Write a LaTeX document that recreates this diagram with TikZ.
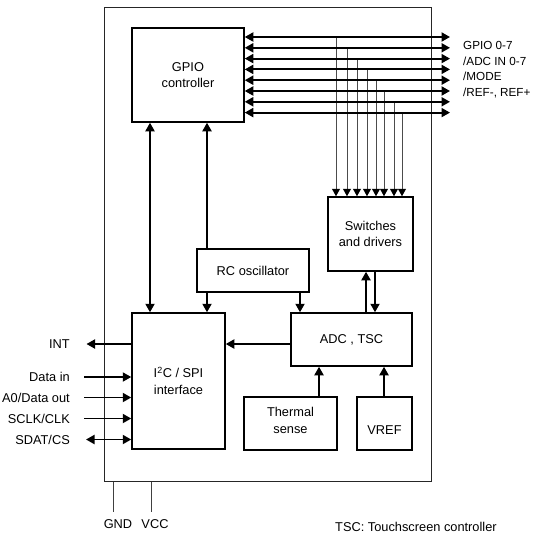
\documentclass[tikz,border=0pt]{standalone}
\usepackage{fontspec}
\setmainfont{Liberation Sans}
\usetikzlibrary{arrows.meta}
\newcommand\blkfont{\fontsize{12.8}{16.5}\selectfont}
\newcommand\pinfont{\fontsize{11.7}{15.8}\selectfont}

\begin{document}
\begin{tikzpicture}[x=1pt,y=-1pt,
  blk/.style={draw, line width=1.5pt, font=\blkfont, align=center, inner sep=0pt},
  sig/.style={font=\blkfont, inner sep=1pt},
  arr/.style={line width=1.9pt, -{Triangle[length=8.5pt,width=9pt]}},
  dbl/.style={line width=1.9pt, {Triangle[length=8.5pt,width=9pt]}-{Triangle[length=8.5pt,width=9pt]}},
  drop/.style={line width=1pt, black!70, -{Triangle[length=7.5pt,width=8pt,color=black]}},
  pin/.style={line width=0.9pt, black!75}]
  \useasboundingbox (0,0) rectangle (534,538);

  % chip outline
  \node[draw, line width=0.9pt, black!85, inner sep=0pt,
        minimum width=327pt, minimum height=474pt] (chip) at (267.5,244.5) {};

  % blocks
  \node[blk, minimum width=112pt, minimum height=94pt] (gpio) at (188,75) {GPIO\\controller};
  \node[blk, minimum width=85pt, minimum height=74pt] (sw) at (370.5,234) {Switches\\and drivers};
  \node[blk, minimum width=112pt, minimum height=43pt] (rc) at (253,270.5) {RC oscillator};
  \node[blk, minimum width=121pt, minimum height=53pt] (adc) at (351.5,339.5) {ADC , TSC};
  \node[blk, minimum width=93pt, minimum height=136pt] (iic) at (178.5,381) {I\textsuperscript{2}C / SPI\\interface};
  \node[blk, minimum width=93pt, minimum height=53pt, text height=20pt] (therm) at (290.5,423.5) {Thermal\\sense};
  \node[blk, minimum width=55pt, minimum height=53pt, text height=21pt] (vref) at (384.5,423.5) {VREF};

  % columns of the vertical links
  \coordinate (xgi) at (150,0);
  \coordinate (xrc) at (207,0);
  \coordinate (xad) at (300,0);
  \coordinate (xup) at (366,0);
  \coordinate (xdn) at (375,0);
  \coordinate (xth) at (319,0);
  \coordinate (xvr) at (384,0);
  \coordinate (yai) at (0,344);

  % GPIO bus: drops to the switches, then the eight lines
  \foreach \i/\x in {0/336,1/347,2/357,3/367,4/376,5/384,6/394,7/402}{
    \coordinate (d\i) at (\x,37+10.8*\i);
    \draw[drop] (d\i) -- (d\i |- sw.north);
  }
  \foreach \i in {0,...,7}{
    \coordinate (b\i) at (450,37+10.8*\i);
    \draw[dbl] (gpio.east |- b\i) -- (b\i);
  }
  \node[font=\pinfont, inner sep=0pt, align=left, anchor=north west] (buslbl) at (463,41)
    {GPIO 0-7\\/ADC IN 0-7\\/MODE\\/REF-, REF+};

  % internal links
  \draw[dbl] (gpio.south -| xgi) -- (iic.north -| xgi);
  \draw[arr] (rc.north -| xrc) -- (gpio.south -| xrc);
  \draw[arr] (rc.south -| xrc) -- (iic.north -| xrc);
  \draw[arr] (rc.south -| xad) -- (adc.north -| xad);
  \draw[arr] (adc.west |- yai) -- (iic.east |- yai);
  \draw[arr] (adc.north -| xup) -- (sw.south -| xup);
  \draw[arr] (sw.south -| xdn) -- (adc.north -| xdn);
  \draw[arr] (therm.north -| xth) -- (adc.south -| xth);
  \draw[arr] (vref.north -| xvr) -- (adc.south -| xvr);

  % host side signals
  \node[sig, anchor=east] (int) at (71,344) {INT};
  \node[sig, anchor=east] (din) at (71,377) {Data in};
  \node[sig, anchor=east] (dout) at (71,397.5) {A0/Data out};
  \node[sig, anchor=east] (clk) at (71,418.5) {SCLK/CLK};
  \node[sig, anchor=east] (cs) at (71,439.5) {SDAT/CS};
  \draw[arr] (iic.west |- int) -- ([xshift=15.5pt]int.east);
  \draw[arr] ([xshift=13pt]din.east) -- (iic.west |- din);
  \draw[arr] ([xshift=13pt]dout.east) -- (iic.west |- dout);
  \draw[arr] ([xshift=13pt]clk.east) -- (iic.west |- clk);
  \draw[dbl] ([xshift=15pt]cs.east) -- (iic.west |- cs);

  % supply pins
  \coordinate (gndpin) at (113,512);
  \coordinate (vccpin) at (151,512);
  \draw[pin] (gndpin |- chip.south) -- (gndpin);
  \draw[pin] (vccpin |- chip.south) -- (vccpin);
  \node[sig] (gnd) at (118,524) {GND};
  \node[sig] (vcc) at (155,524) {VCC};

  \node[sig, anchor=west] (note) at (334,527) {TSC: Touchscreen controller};
\end{tikzpicture}
\end{document}
